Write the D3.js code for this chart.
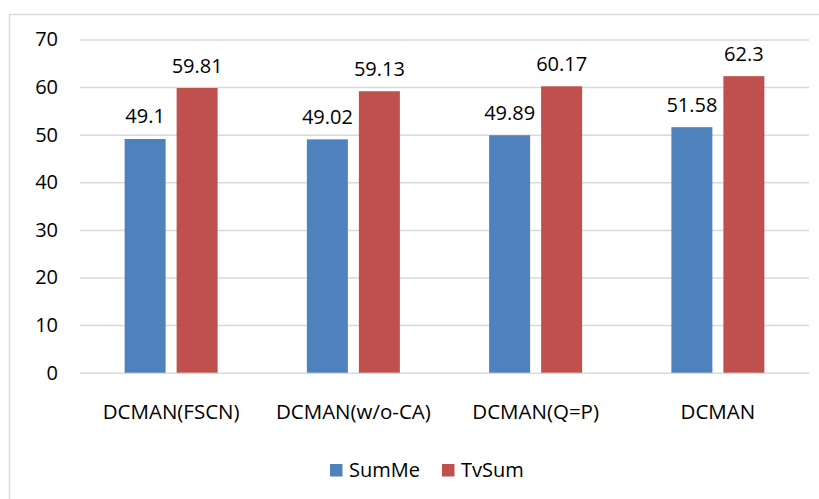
<!DOCTYPE html>
<html>
<head>
<meta charset="utf-8">
<script src="https://cdn.jsdelivr.net/npm/d3@7"></script>
<style>
  html, body { margin: 0; padding: 0; background: #fff; }
  svg { display: block; }
  text { font-family: "Open Sans", "Noto Sans", sans-serif; fill: #000; }
</style>
</head>
<body>
<svg id="chart" width="819" height="499"></svg>
<script>
const categories = ["DCMAN(FSCN)", "DCMAN(w/o-CA)", "DCMAN(Q=P)", "DCMAN"];
const seriesNames = ["SumMe", "TvSum"];
const sumMe = [49.1, 49.02, 49.89, 51.58];
const tvSum = [59.81, 59.13, 60.17, 62.3];
const yTicks = [0, 10, 20, 30, 40, 50, 60, 70];
const colors = ["#4F81BD", "#C0504D"];

const svg = d3.select("#chart");
const W = 819, H = 499;
const plot = { left: 80, right: 809, top: 39.5, bottom: 372.7 };

// chart frame
svg.append("rect")
  .attr("x", 9.5).attr("y", 14.5)
  .attr("width", W + 20).attr("height", H + 20)
  .attr("fill", "none").attr("stroke", "#D9D9D9").attr("stroke-width", 1.5);

const x0 = d3.scaleBand().domain(categories).range([plot.left, plot.right]).padding(0);
const y = d3.scaleLinear().domain([0, 70]).range([plot.bottom, plot.top]);

const barW = 41, gap = 11;
const x1 = d3.scaleOrdinal().domain(seriesNames)
  .range([-(gap / 2 + barW), gap / 2]);

// gridlines
const grid = d3.axisLeft(y).tickValues(yTicks).tickSize(-(plot.right - plot.left)).tickFormat("");
svg.append("g")
  .attr("transform", `translate(${plot.left},0)`)
  .call(grid)
  .call(g => g.select(".domain").remove())
  .call(g => g.selectAll("line").attr("stroke", "#D9D9D9").attr("stroke-width", 1.5));

// y tick labels
const yAxis = d3.axisLeft(y).tickValues(yTicks).tickSize(0).tickPadding(22);
svg.append("g")
  .attr("transform", `translate(${plot.left},0)`)
  .call(yAxis)
  .call(g => g.select(".domain").remove())
  .call(g => g.selectAll("text").attr("font-size", "20px").attr("fill", "#000")
    .style("font-family", '"Open Sans", sans-serif'));

// bars
const rows = categories.map((c, i) => ({ cat: c, vals: [sumMe[i], tvSum[i]] }));
const groups = svg.append("g").selectAll("g").data(rows).join("g")
  .attr("transform", d => `translate(${x0(d.cat) + x0.bandwidth() / 2},0)`);

groups.selectAll("rect")
  .data(d => d.vals.map((v, k) => ({ v, s: seriesNames[k], k })))
  .join("rect")
  .attr("x", d => x1(d.s))
  .attr("width", barW)
  .attr("y", d => y(d.v))
  .attr("height", d => y(0) - y(d.v))
  .attr("fill", d => colors[d.k]);

// value labels
groups.selectAll("text.val")
  .data(d => d.vals.map((v, k) => ({ v, s: seriesNames[k], k })))
  .join("text")
  .attr("class", "val")
  .attr("x", d => x1(d.s) + barW / 2)
  .attr("y", d => y(d.v) - 15.5)
  .attr("text-anchor", "middle")
  .attr("font-size", "20px")
  .text(d => d.v);

// x category labels
const xAxis = d3.axisBottom(x0).tickSize(0).tickPadding(32);
svg.append("g")
  .attr("transform", `translate(0,${plot.bottom})`)
  .call(xAxis)
  .call(g => g.select(".domain").remove())
  .call(g => g.selectAll("text").attr("font-size", "20.5px").attr("fill", "#000")
    .style("font-family", '"Open Sans", sans-serif'));

// legend
const legend = svg.append("g").attr("transform", "translate(330,464)");
const items = [{ name: seriesNames[0], x: 0 }, { name: seriesNames[1], x: 112 }];
items.forEach((it, k) => {
  legend.append("rect").attr("x", it.x).attr("y", 0).attr("width", 12.5).attr("height", 12.5)
    .attr("fill", colors[k]);
  legend.append("text").attr("x", it.x + 19).attr("y", 12.8)
    .attr("font-size", "20px").text(it.name);
});
</script>
</body>
</html>
